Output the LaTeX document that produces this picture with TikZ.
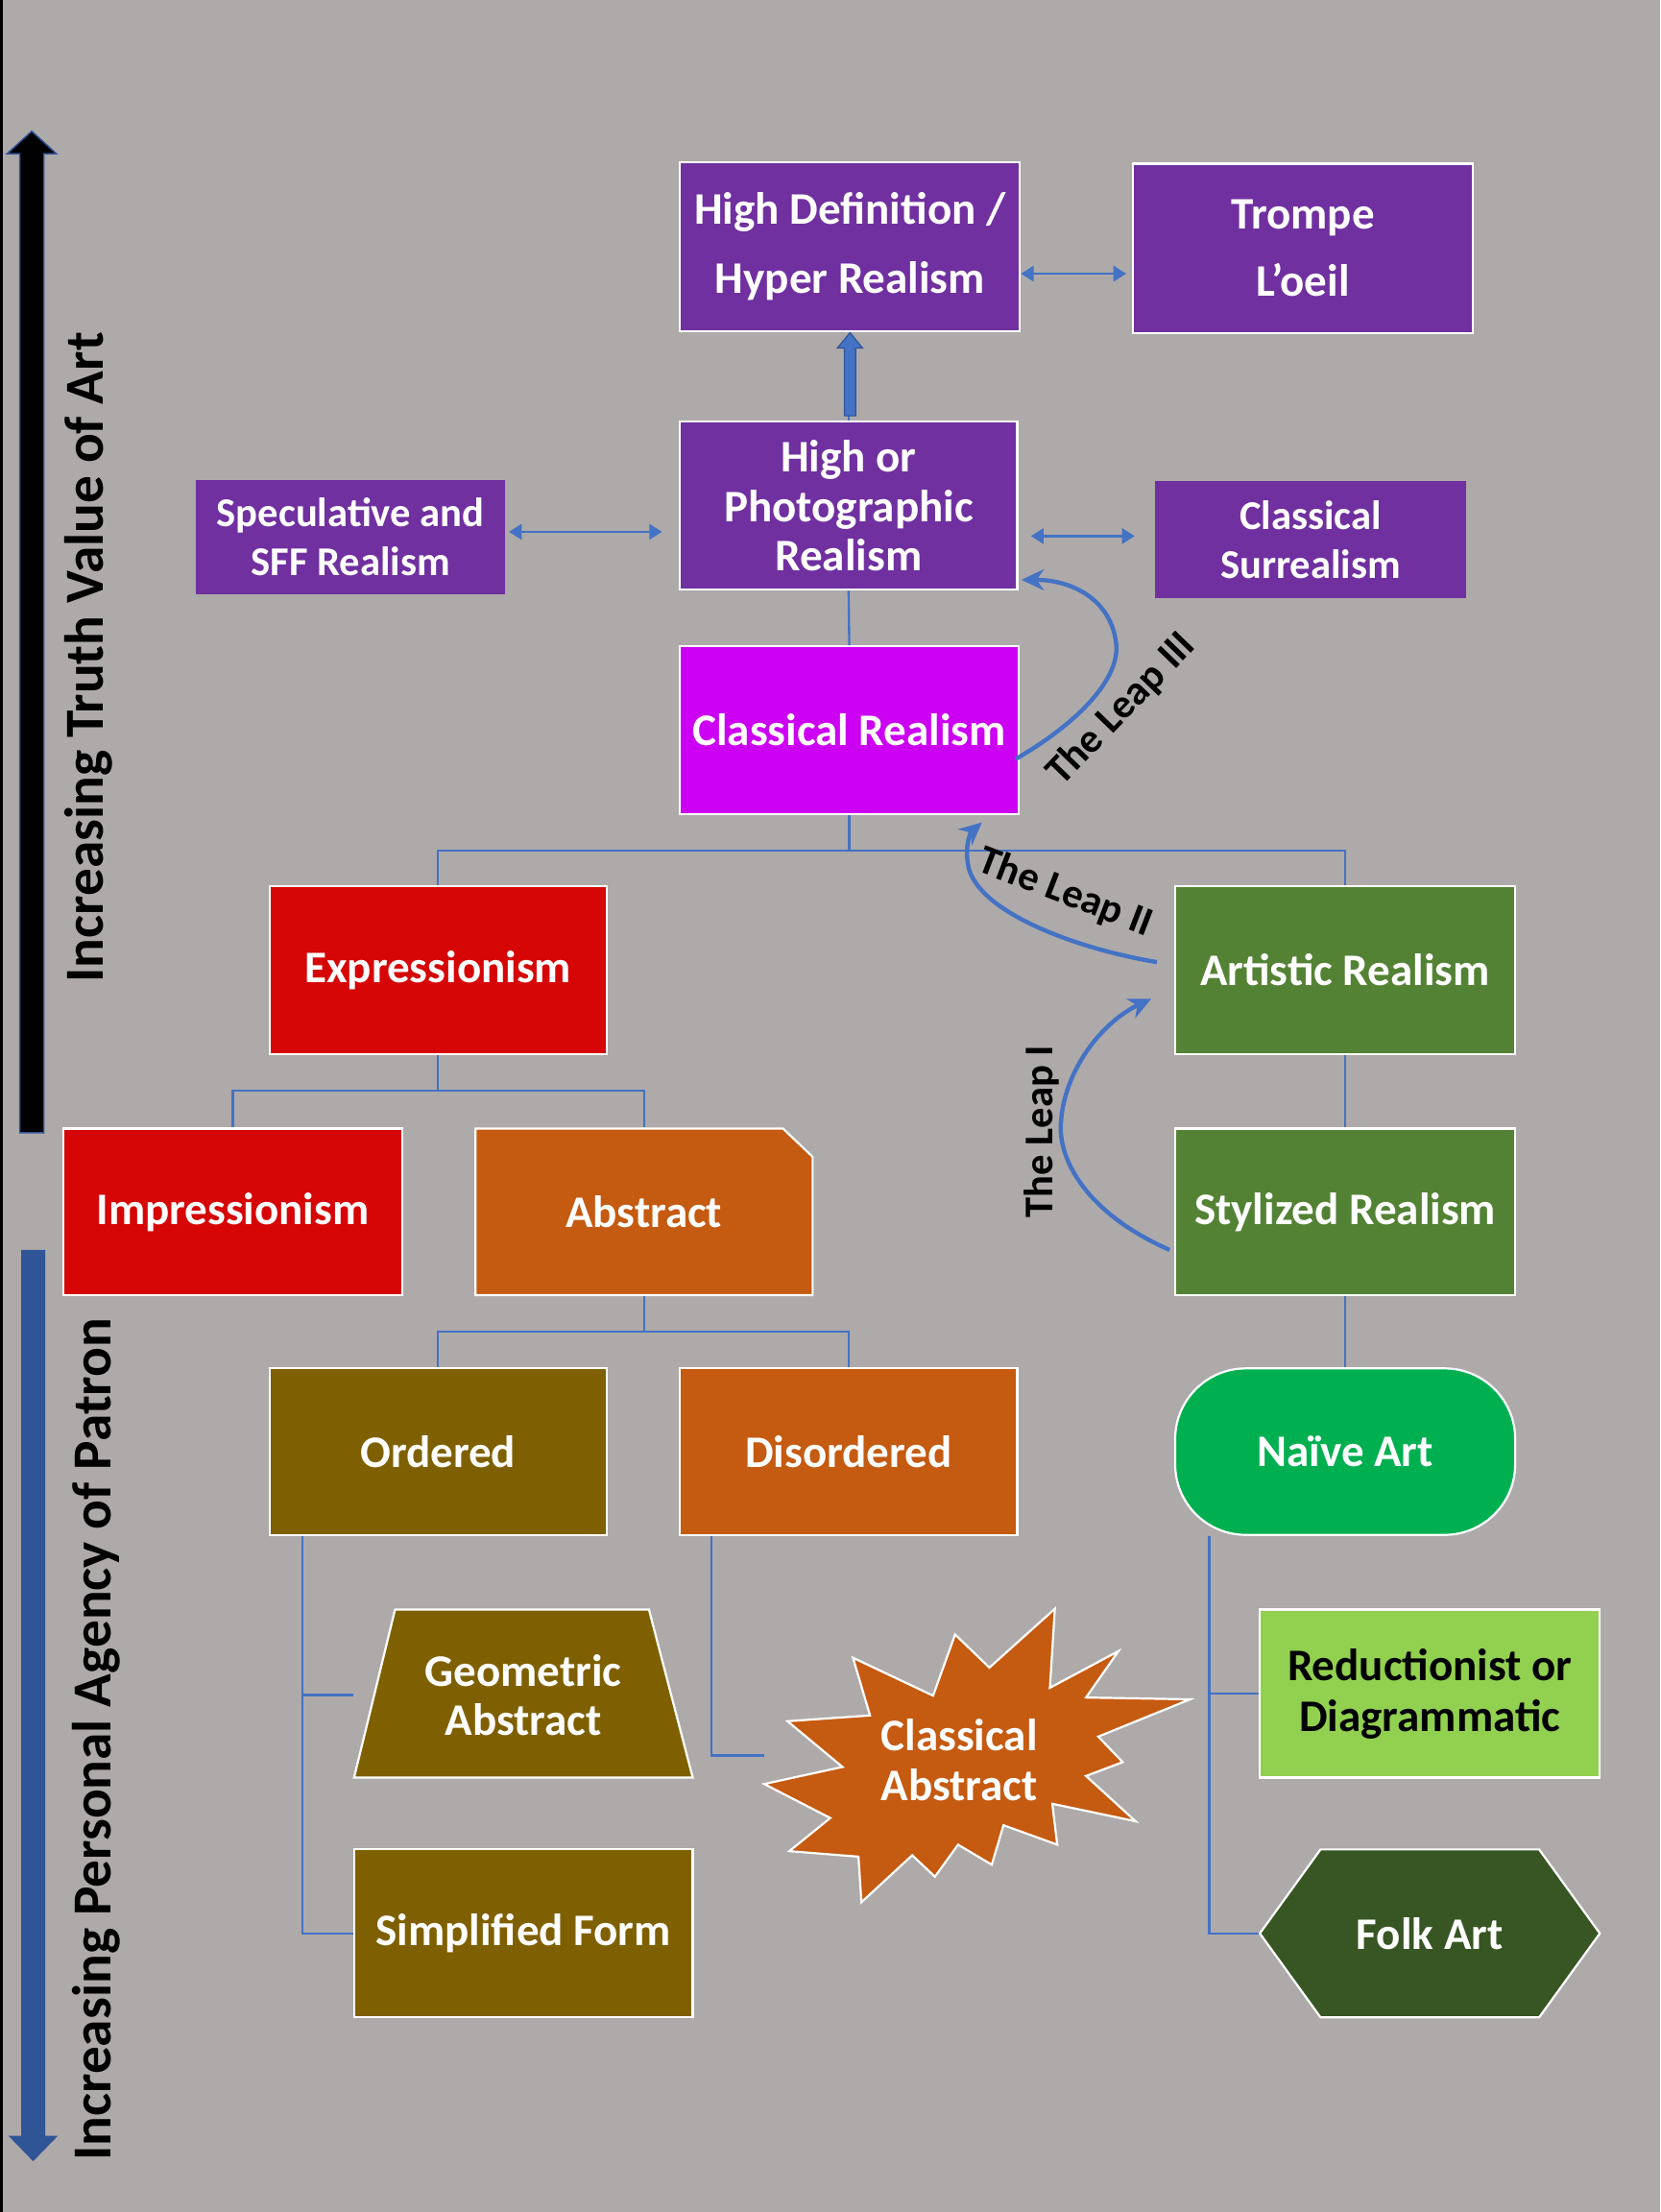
\documentclass[tikz,border=0pt]{standalone}
\usepackage{fontspec}
\setmainfont{Carlito}
\usetikzlibrary{arrows.meta,calc}
\definecolor{bgc}{HTML}{AEAAAA}
\definecolor{purp}{HTML}{7030A0}
\definecolor{mag}{HTML}{CC00F2}
\definecolor{redb}{HTML}{D60606}
\definecolor{orng}{HTML}{C55A11}
\definecolor{olivec}{HTML}{7F6000}
\definecolor{grn}{HTML}{548235}
\definecolor{brgrn}{HTML}{00B050}
\definecolor{ltgrn}{HTML}{92D050}
\definecolor{dkgrn}{HTML}{375623}
\definecolor{connblue}{HTML}{4472C4}
\definecolor{dkblue}{HTML}{2F5597}
\tikzset{
  box/.style={draw=white, line width=1.5pt, text=white, font=\bfseries\fontsize{32}{37}\selectfont,
    align=center, inner sep=0pt, minimum width=240pt, minimum height=119pt},
  ghost/.style={box, draw=none},
  shapeline/.style={draw=white, line width=1.5pt},
  link/.style={draw=connblue, line width=1.6pt},
  dbl/.style={link, {Triangle[length=9pt,width=11pt]}-{Triangle[length=9pt,width=11pt]}},
  leap/.style={draw=connblue, line width=3pt, -{Stealth[length=16pt,width=15pt]}},
  leaplabel/.style={font=\bfseries\fontsize{29}{34}\selectfont, text=black, inner sep=0pt},
  sidelabel/.style={rotate=90, font=\bfseries\fontsize{39}{45}\selectfont, text=black, inner sep=0pt}
}
\begin{document}
\begin{tikzpicture}[x=1pt,y=-1pt]
\useasboundingbox (0,0) rectangle (1177,1568);
\fill[bgc] (0,0) rectangle (1177,1568);
\fill[black] (0,0) rectangle (2,1568);

% side arrows
\filldraw[fill=black, draw=dkblue, line width=1pt] (14,803) -- (14,109) -- (5,109) -- (22.5,93) -- (40,109) -- (31,109) -- (31,803) -- cycle;
\fill[dkblue] (15,886) -- (15,1514) -- (6,1514) -- (23.5,1532) -- (41,1514) -- (32,1514) -- (32,886) -- cycle;
\node[sidelabel] (truth) at (63,466) {Increasing Truth Value of Art};
\node[sidelabel] (agency) at (68,1233) {Increasing Personal Agency of Patron};

% custom shapes (drawn before their nodes)
\filldraw[fill=orng, shapeline] (337,800) -- (555,800) -- (576,820) -- (576,918) -- (337,918) -- cycle;
\filldraw[fill=olivec, shapeline] (280,1141) -- (460,1141) -- (491,1260) -- (251,1260) -- cycle;
\filldraw[fill=dkgrn, shapeline] (893,1370.5) -- (936,1311) -- (1091,1311) -- (1134,1370.5) -- (1091,1430) -- (936,1430) -- cycle;
\filldraw[fill=orng, shapeline, line join=miter] (747.7,1140.4) -- (744.2,1196.4) -- (792.8,1170.4) -- (769.8,1203.3) -- (843.5,1204.6) -- (778.5,1231.0) -- (795.8,1249.1) -- (769.8,1258.9) -- (804.9,1291.0) -- (745.9,1278.6) -- (749.4,1307.6) -- (711.3,1293.8) -- (703.0,1321.8) -- (679.1,1307.6) -- (662.7,1330.3) -- (646.6,1315.1) -- (610.6,1348.4) -- (608.5,1316.1) -- (559.5,1312.2) -- (588.5,1288.7) -- (541.7,1264.6) -- (597.2,1252.5) -- (558.2,1220.1) -- (616.7,1216.0) -- (604.6,1175.1) -- (661.4,1202.0) -- (677.0,1158.6) -- (701.3,1182.1) -- cycle;

% nodes
\node[box, fill=purp, minimum width=241pt, minimum height=120pt, font=\bfseries\fontsize{32}{49}\selectfont] (hd) at (602.5,175) {High Definition /\\Hyper Realism};
\node[box, fill=purp, minimum width=241pt, minimum height=120pt, font=\bfseries\fontsize{32}{48}\selectfont] (trompe) at (923.5,176) {Trompe\\L’oeil};
\node[box, fill=purp, minimum width=239pt, font=\bfseries\fontsize{32}{35}\selectfont] (hpr) at (601.5,358.5) {High or\\Photographic\\Realism};
\node[box, draw=none, fill=purp, minimum width=219pt, minimum height=81pt, font=\bfseries\fontsize{29}{35}\selectfont] (spec) at (248.5,380.5) {Speculative and\\SFF Realism};
\node[box, draw=none, fill=purp, minimum width=220pt, minimum height=83pt, font=\bfseries\fontsize{29}{35}\selectfont] (csur) at (929,382.5) {Classical\\Surrealism};
\node[box, fill=mag] (cr) at (602,517.5) {Classical Realism};
\node[box, fill=redb, minimum width=239pt] (expr) at (310.5,687.5) {Expressionism};
\node[box, fill=grn, minimum width=241pt] (ar) at (953.5,687.5) {Artistic Realism};
\node[box, fill=redb, minimum height=118pt] (imp) at (165,859) {Impressionism};
\node[ghost, minimum width=239pt, minimum height=118pt] (abs) at (456.5,859) {Abstract};
\node[box, fill=grn, minimum width=241pt, minimum height=118pt] (sr) at (953.5,859) {Stylized Realism};
\node[box, fill=olivec, minimum width=239pt, minimum height=118pt] (ord) at (310.5,1029) {Ordered};
\node[box, fill=orng, minimum width=239pt, minimum height=118pt] (dis) at (601.5,1029) {Disordered};
\node[box, fill=brgrn, minimum width=241pt, minimum height=118pt, rounded corners=50pt] (naive) at (953.5,1029) {Naïve Art};
\node[ghost, font=\bfseries\fontsize{32}{35}\selectfont] (geo) at (371,1201.5) {Geometric\\Abstract};
\node[box, fill=olivec] (simp) at (371,1370.5) {Simplified Form};
\node[box, fill=ltgrn, text=black, minimum width=241pt, font=\bfseries\fontsize{32}{36}\selectfont] (red) at (1013.5,1200.5) {Reductionist or\\Diagrammatic};
\node[ghost, minimum width=241pt] (folk) at (1013.5,1370.5) {Folk Art};
\node[text=white, inner sep=0pt, align=center, font=\bfseries\fontsize{32}{35}\selectfont] (cabs) at (680,1247.5) {Classical\\Abstract};
\coordinate (cabsL) at (541.7,1244.4);

% tree connectors
\draw[link] (hpr.south) -- (cr.north);
\coordinate (j1) at (602,603);
\draw[link] (cr.south) -- (j1);
\draw[link] (expr.north) |- (j1) -| (ar.north);
\coordinate (j2) at (310.5,773);
\draw[link] (expr.south) -- (j2);
\draw[link] (imp.north) |- (j2) -| (abs.north);
\coordinate (j3) at (456.5,944);
\draw[link] (abs.south) -- (j3);
\draw[link] (ord.north) |- (j3) -| (dis.north);
\draw[link] (ar.south) -- (sr.north);
\draw[link] (sr.south) -- (naive.north);
\draw[link] ([xshift=24pt]ord.south west) |- (geo.west);
\draw[link] ([xshift=24pt]ord.south west) |- (simp.west);
\draw[link] ([xshift=23pt]dis.south west) |- (cabsL);
\draw[link] ([xshift=25pt]naive.south west) |- (red.west);
\draw[link] ([xshift=25pt]naive.south west) |- (folk.west);

% double arrows
\draw[dbl] ([yshift=-19pt]hd.east) -- ([xshift=-4pt,yshift=-18pt]trompe.west);
\draw[dbl] ([xshift=2pt,yshift=3.5pt]spec.east) -- ([xshift=-12pt,yshift=-18.5pt]hpr.west);
\draw[dbl] ([xshift=9pt,yshift=-21.5pt]hpr.east) -- ([xshift=-14pt,yshift=2.5pt]csur.west);

% block arrow hpr -> hd
\draw[link] (hpr.north) -- ++(0,-6);
\filldraw[fill=connblue, draw=dkblue, line width=0.8pt] ($(hd.south)+(-4,59)$) -- ($(hd.south)+(-4,11)$) -- ($(hd.south)+(-9,11)$) -- (hd.south) -- ($(hd.south)+(9,11)$) -- ($(hd.south)+(4,11)$) -- ($(hd.south)+(4,59)$) -- cycle;

% leaps
\coordinate (l3s) at (720,538);
\coordinate (l3e) at (724,411);
\draw[leap] (l3s) .. controls (765,512) and (795,480) .. (791,455) .. controls (787,425) and (760,411) .. (l3e);
\coordinate (l2s) at (820,682);
\coordinate (l2e) at (696,583);
\draw[leap] (l2s) .. controls (760,672) and (690,645) .. (686,612) .. controls (684,598) and (688,590) .. (l2e);
\coordinate (l1s) at (829,886);
\coordinate (l1e) at (816,708);
\draw[leap] (l1s) .. controls (770,860) and (750,822) .. (752,796) .. controls (754,760) and (780,725) .. (l1e);
\node[leaplabel, rotate=46] (l3) at (795,503) {The Leap III};
\node[leaplabel, rotate=-21] (l2) at (755,633) {The Leap II};
\node[leaplabel, rotate=90] (l1) at (738,802) {The Leap I};
\end{tikzpicture}
\end{document}
